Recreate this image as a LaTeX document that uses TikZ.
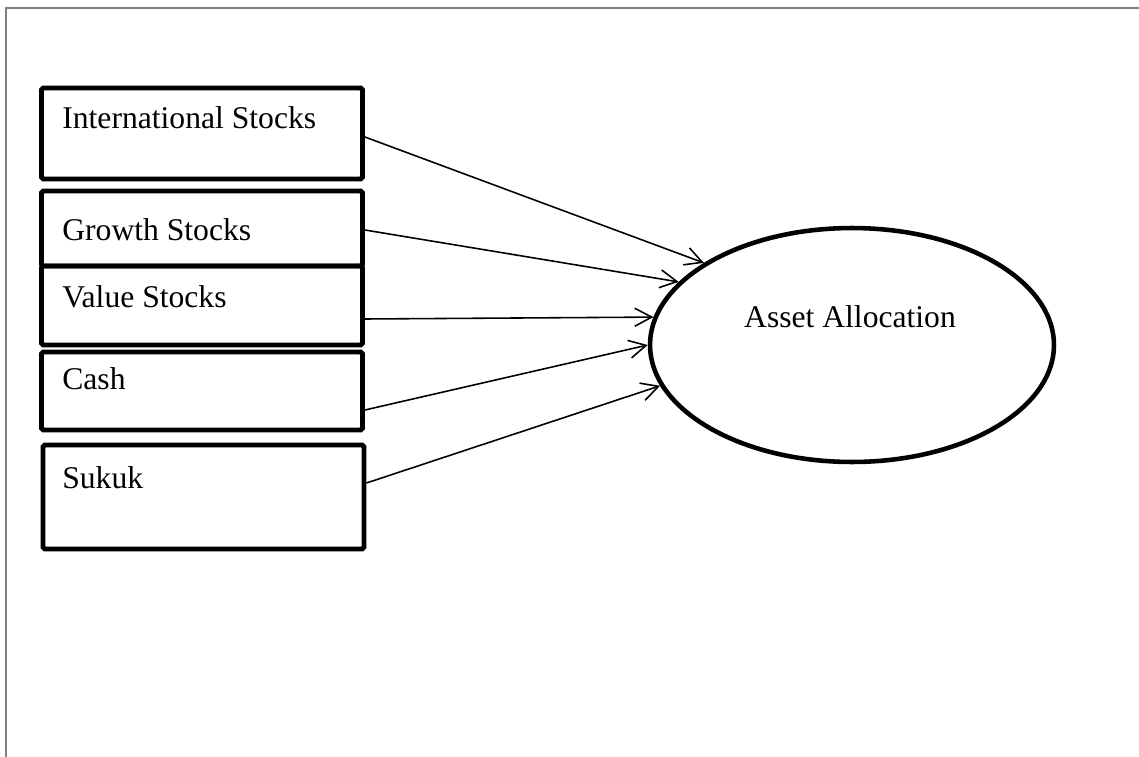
\documentclass[tikz,border=0pt]{standalone}
\usepackage{fontspec}
\setmainfont{Liberation Serif}
\usetikzlibrary{arrows.meta,shapes.geometric}
\begin{document}
\begin{tikzpicture}[x=0.02cm,y=-0.02cm]
    \tikzstyle{frame}=[draw=black!50,line width=0.95pt]
    \tikzstyle{boxes}=[draw,rectangle,rounded corners=1pt,line width=2.8pt,minimum width=6.42cm,inner sep=0pt]
    \tikzstyle{labels}=[inner sep=0pt,anchor=base west,font=\fontsize{18}{21}\selectfont]
    \tikzstyle{vectors}=[-{Straight Barb[length=0.34cm,width=0.36cm]},line width=0.9pt]
    \useasboundingbox (0,0) rectangle (1139,757);
    \draw[frame] (6,757)--(6,8)--(1139,8);

    \node[boxes,minimum height=1.82cm] (intl) at (202,133.5) {};
    \node[boxes,minimum height=1.50cm] (growth) at (202,228.5) {};
    \node[boxes,minimum height=1.58cm] (value) at (202,305.5) {};
    \node[boxes,minimum height=1.56cm] (cash) at (202,391) {};
    \node[boxes,minimum height=2.08cm] (sukuk) at (203.5,497) {};
    \node[labels] (intl-t) at (62,129) {International Stocks};
    \node[labels] (growth-t) at (62,240) {Growth Stocks};
    \node[labels] (value-t) at (62,307) {Value Stocks};
    \node[labels] (cash-t) at (62,389) {Cash};
    \node[labels] (sukuk-t) at (62,488) {Sukuk};

    \node[draw,ellipse,line width=2.6pt,minimum width=8.08cm,minimum height=4.68cm,inner sep=0pt] (alloc) at (852,345) {};
    \node[labels,anchor=base] (alloc-t) at (850,327) {Asset Allocation};

    \draw[vectors] ([yshift=-0.07cm]intl.east) -- (alloc.151);
    \draw[vectors] ([yshift=-0.03cm]growth.east) -- (alloc.160.5);
    \draw[vectors] ([yshift=-0.27cm]value.east) -- (alloc.172.3);
    \draw[vectors] ([yshift=-0.38cm]cash.east) -- (alloc.180.8);
    \draw[vectors] ([yshift=0.28cm]sukuk.east) -- (alloc.192.8);
\end{tikzpicture}
\end{document}
